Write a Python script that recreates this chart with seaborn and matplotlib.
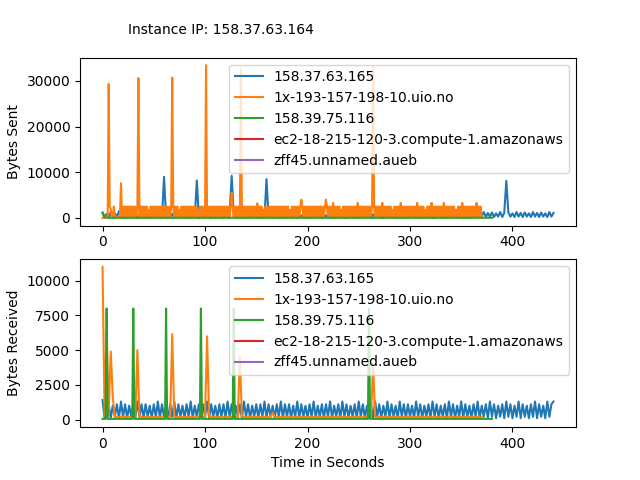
import matplotlib
matplotlib.use("Agg")
import matplotlib.pyplot as plt
import numpy as np
import seaborn as sns

hosts = ["158.37.63.165", "1x-193-157-198-10.uio.no", "158.39.75.116",
         "ec2-18-215-120-3.compute-1.amazonaws", "zff45.unnamed.aueb"]
colors = sns.color_palette("tab10")[:5]

# blue is sampled every 2 s, orange (sent) every second
t_blue = np.arange(0, 441, 2)
t_orange = np.arange(0, 371, 1)

blue_sent = [
    1100, 200, 900, 100, 1300, 0, 1000, 200, 1500, 100, 800, 0, 900, 200, 1000, 100, 800, 0, 900, 200,
    800, 100, 900, 0, 1000, 200, 800, 100, 900, 0, 9000, 100, 800, 200, 900, 0, 1000, 100, 800, 200,
    900, 0, 800, 100, 1000, 200, 8200, 0, 900, 100, 800, 200, 1000, 0, 900, 100, 800, 200, 900, 0,
    1000, 100, 800, 9200, 900, 0, 1000, 200, 800, 100, 900, 0, 1000, 200, 800, 100, 900, 0, 800, 200,
    8500, 100, 900, 0, 1000, 200, 800, 100, 900, 0, 800, 200, 1000, 100, 900, 0, 800, 200, 1000, 100,
    900, 0, 800, 200, 1000, 100, 900, 0, 800, 200, 1000, 100, 900, 0, 800, 200, 900, 100, 1000, 0,
    800, 200, 900, 100, 1000, 0, 800, 200, 900, 100, 1000, 0, 800, 200, 900, 100, 1000, 0, 800, 200,
    900, 100, 1000, 0, 800, 200, 900, 100, 1000, 0, 800, 200, 900, 100, 1000, 0, 800, 200, 900, 100,
    1000, 0, 800, 200, 900, 100, 1000, 0, 800, 200, 900, 100, 1000, 0, 800, 200, 900, 100, 1000, 0,
    1100, 300, 1200, 200, 1000, 400, 1300, 200, 1100, 300, 1200, 200, 1000, 300, 1300, 200, 1100, 8100, 1200, 300,
    1000, 200, 1300, 300, 1100, 200, 1200, 300, 1000, 200, 1300, 300, 1100, 200, 1200, 300, 1000, 200, 1300, 300,
    1100,
]

orange_sent = [
    0, 200, 100, 300, 200, 300, 29300, 2500, 2000, 300, 200, 2500, 200, 300, 200, 100, 300, 200, 7600, 200,
    2500, 100, 2500, 200, 2500, 100, 2500, 100, 2500, 200, 2500, 100, 2500, 100, 2500, 30600, 100, 2500, 200, 2500,
    100, 2500, 100, 2500, 200, 1800, 100, 2500, 100, 2500, 200, 2500, 100, 2500, 100, 2500, 200, 2500, 100, 2500,
    100, 2500, 200, 2500, 100, 2500, 100, 2500, 30700, 2500, 100, 2500, 200, 2500, 100, 1800, 100, 2500, 200, 2500,
    100, 2500, 100, 2500, 200, 2500, 100, 2500, 100, 2500, 200, 2500, 100, 1800, 100, 2500, 200, 2500, 100, 2500,
    100, 33400, 200, 2500, 100, 2500, 100, 2500, 200, 2500, 100, 2500, 100, 2500, 200, 2500, 100, 2500, 100, 2500,
    200, 2500, 100, 2500, 100, 2500, 5500, 2500, 200, 2500, 100, 2500, 100, 2500, 200, 32500, 100, 2500, 100, 2500,
    100, 2500, 200, 2500, 100, 2500, 100, 2500, 200, 2500, 100, 3200, 100, 2500, 200, 2500, 100, 1800, 100, 2500,
    100, 2500, 200, 2500, 100, 2500, 100, 2500, 200, 2500, 100, 2500, 100, 2500, 200, 2500, 100, 2500, 100, 2500,
    100, 2500, 200, 1800, 100, 2500, 100, 2500, 200, 2500, 100, 2500, 100, 2500, 4000, 2500, 100, 2500, 100, 2500,
    100, 2500, 200, 2500, 100, 2500, 100, 2500, 200, 2500, 100, 2500, 100, 2500, 200, 2500, 100, 2500, 4000, 2500,
    100, 2500, 200, 2500, 100, 3300, 100, 2500, 200, 2500, 100, 2500, 100, 1800, 200, 2500, 100, 2500, 100, 2500,
    100, 2500, 200, 2500, 100, 2500, 100, 2500, 200, 3300, 100, 2500, 100, 2500, 200, 2500, 100, 2500, 100, 2500,
    100, 2500, 200, 2500, 33000, 2500, 100, 2500, 200, 2500, 100, 2500, 100, 3300, 200, 2500, 100, 2500, 100, 2500,
    100, 2500, 200, 1800, 100, 2500, 100, 2500, 200, 2500, 100, 3300, 100, 2500, 200, 2500, 100, 2500, 100, 2500,
    100, 2500, 200, 2500, 100, 2500, 100, 3300, 200, 2500, 100, 2500, 100, 2500, 200, 1800, 100, 2500, 100, 2500,
    100, 3300, 200, 2500, 100, 2500, 100, 2500, 200, 2500, 100, 2500, 100, 3300, 200, 2500, 100, 2500, 100, 2500,
    100, 2500, 200, 2500, 100, 1800, 100, 2500, 200, 2500, 100, 3300, 100, 2500, 200, 2500, 100, 2500, 100, 2500,
    100, 2500, 200, 2500, 100, 3300, 100, 2500, 200, 2500, 0,
]

green_sent_t = [0, 2, 4, 380]
green_sent = [1200, 100, 50, 50]

blue_recv = [
    1400, 100, 200, 1100, 100, 1000, 200, 1100, 100, 1300, 200, 1100, 100, 1000, 200, 1100, 100, 1300, 200, 1100,
    100, 1100, 200, 1000, 100, 1100, 200, 1300, 100, 1100, 200, 1000, 100, 1100, 200, 1300, 100, 1100, 200, 1000,
    100, 1100, 200, 1300, 100, 1000, 200, 1100, 100, 1100, 200, 1300, 100, 1100, 200, 1000, 100, 1100, 200, 1100,
    100, 1300, 200, 1100, 100, 1000, 200, 1100, 100, 1300, 200, 1100, 100, 1000, 200, 1100, 100, 1100, 200, 1300,
    100, 1100, 200, 1000, 100, 1100, 200, 1300, 100, 1100, 200, 1100, 100, 1000, 200, 1300, 100, 1100, 200, 1000,
    100, 1100, 200, 1300, 100, 1000, 200, 1100, 100, 1100, 200, 1300, 100, 1000, 200, 1100, 100, 1300, 200, 1100,
    100, 1000, 200, 1100, 100, 1300, 200, 1100, 100, 1000, 200, 1100, 100, 1300, 200, 1100, 100, 1000, 200, 1300,
    100, 1100, 200, 1000, 100, 1300, 200, 1100, 100, 1100, 200, 1000, 100, 1300, 200, 1100, 100, 1000, 200, 1100,
    100, 1300, 200, 1100, 100, 1000, 200, 1100, 100, 1300, 200, 1100, 100, 1000, 200, 1300, 100, 1100, 200, 1000,
    100, 1100, 200, 1300, 100, 1000, 200, 1100, 100, 1300, 200, 1100, 100, 1000, 200, 1100, 100, 1300, 200, 1100,
    100, 1000, 200, 1300, 100, 1100, 200, 1000, 100, 1100, 200, 1300, 100, 1100, 200, 1000, 100, 1300, 200, 1100,
    1300,
]

orange_recv_t = [0, 2, 4, 6, 8, 10, 12, 32, 34, 36, 66, 68, 70, 100, 102, 104, 132, 134, 136,
                 164, 166, 168, 262, 264, 266, 370]
orange_recv = [11000, 300, 6400, 300, 4900, 1600, 200, 200, 5000, 200, 200, 6150, 200, 200, 6000, 200,
               200, 4500, 200, 200, 500, 200, 200, 4000, 200, 200]

green_recv_t = [0, 3, 4, 5, 29, 30, 31, 61, 62, 63, 95, 96, 97, 127, 128, 129, 259, 260, 261, 380]
green_recv = [50, 50, 8000, 50, 50, 8000, 50, 50, 8000, 50, 50, 8000, 50, 50, 8000, 50, 50, 8000, 50, 50]

# the last two hosts have nothing worth drawing
ec2_t, ec2_v = [0], [0]
zff_t, zff_v = [0], [0]

fig, (ax1, ax2) = plt.subplots(2, 1, figsize=(6.4, 4.8), dpi=100)

sent = [(t_blue, blue_sent), (t_orange, orange_sent), (green_sent_t, green_sent), (ec2_t, ec2_v), (zff_t, zff_v)]
recv = [(t_blue, blue_recv), (orange_recv_t, orange_recv), (green_recv_t, green_recv), (ec2_t, ec2_v), (zff_t, zff_v)]

for ax, series in [(ax1, sent), (ax2, recv)]:
    for (tx, vy), name, col in zip(series, hosts, colors):
        sns.lineplot(x=list(tx), y=vy, ax=ax, color=col, label=name, estimator=None, linewidth=1.5)
    ax.legend(loc="upper right")

ax1.set_ylabel("Bytes Sent")
ax2.set_ylabel("Bytes Received")
ax2.set_xlabel("Time in Seconds")
ax1.set_xlabel("")

fig.text(0.345, 0.9375, "Instance IP: 158.37.63.164", ha="center", va="center", fontsize=10)

fig.savefig("out.png", dpi=100)
